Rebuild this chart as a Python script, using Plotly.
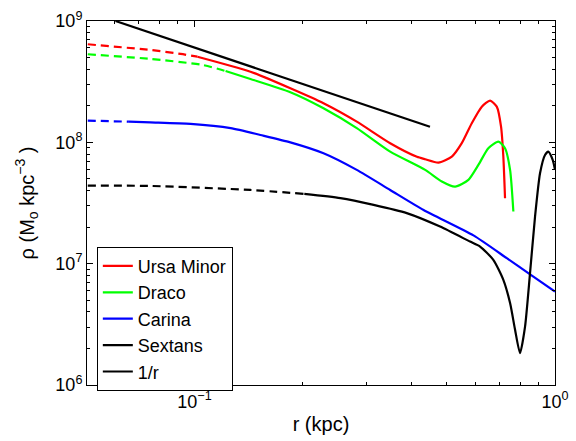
import plotly.graph_objects as go

# Ursa Minor (red)
um_dash_r = [0.0506, 0.0755, 0.0915, 0.1019]
um_dash_rho = [6.43e8, 5.77e8, 5.35e8, 5.08e8]
um_r = [0.1019, 0.143, 0.1845, 0.228, 0.282, 0.349, 0.414, 0.4365, 0.475, 0.5174, 0.5514, 0.5877, 0.6266, 0.6606, 0.6894, 0.7085, 0.719, 0.7268]
um_rho = [5.08e8, 3.82e8, 2.79e8, 2.10e8, 1.48e8, 9.83e7, 7.60e7, 7.26e7, 6.81e7, 7.63e7, 9.84e7, 1.437e8, 1.968e8, 2.205e8, 1.968e8, 1.346e8, 7.62e7, 3.46e7]

# Draco (green)
dr_dash_r = [0.0506, 0.0755, 0.105, 0.122]
dr_dash_rho = [5.32e8, 4.87e8, 4.35e8, 3.87e8]
dr_r = [0.122, 0.143, 0.1845, 0.228, 0.282, 0.349, 0.4365, 0.4855, 0.5284, 0.5752, 0.6131, 0.6533, 0.6966, 0.7268, 0.7506, 0.7665]
dr_rho = [3.87e8, 3.33e8, 2.59e8, 1.91e8, 1.31e8, 8.38e7, 5.93e7, 4.75e7, 4.31e7, 4.90e7, 6.51e7, 8.94e7, 1.013e8, 8.94e7, 5.93e7, 2.69e7]

# Carina (blue)
ca_dash_r = [0.0506, 0.0658]
ca_dash_rho = [1.51e8, 1.48e8]
ca_r = [0.0658, 0.0755, 0.0975, 0.126, 0.1524, 0.1845, 0.228, 0.282, 0.349, 0.432, 0.594, 0.735, 0.853, 1.0]
ca_rho = [1.48e8, 1.46e8, 1.42e8, 1.31e8, 1.15e8, 1.00e8, 8.13e7, 5.93e7, 4.05e7, 2.77e7, 1.71e7, 1.11e7, 8.17e6, 5.89e6]

# Sextans (black)
se_dash_r = [0.0506, 0.0755, 0.143, 0.2017]
se_dash_rho = [4.40e7, 4.37e7, 4.05e7, 3.76e7]
se_r = [0.2017, 0.254, 0.314, 0.388, 0.480, 0.5813, 0.6197, 0.6744, 0.719, 0.7506, 0.7749, 0.7998, 0.8259, 0.8526, 0.8803, 0.9088, 0.9382, 0.9581, 0.9854, 1.0]
se_rho = [3.76e7, 3.47e7, 3.05e7, 2.61e7, 2.02e7, 1.52e7, 1.384e7, 1.075e7, 7.36e6, 4.73e6, 2.85e6, 1.83e6, 3.03e6, 8.36e6, 2.44e7, 5.56e7, 7.87e7, 8.38e7, 7.16e7, 5.93e7]

# 1/r reference
inv_r = [0.0604, 0.45]
inv_rho = [1.0e9, 1.342e8]

x_tickvals = [0.1, 1]
x_ticktext = ["10<sup>\u22121</sup>", "10<sup>0</sup>"]
x_minor = [0.05, 0.06, 0.07, 0.08, 0.09, 0.2, 0.3, 0.4, 0.5, 0.6, 0.7, 0.8, 0.9]
y_tickvals = [1e6, 1e7, 1e8, 1e9]
y_ticktext = ["10<sup>6</sup>", "10<sup>7</sup>", "10<sup>8</sup>", "10<sup>9</sup>"]
y_minor = [m * 10 ** e for e in (6, 7, 8) for m in range(2, 10)]

FONT = "Arial, Liberation Sans, sans-serif"
DASH = "8px,5px"
W = 2.2

fig = go.Figure()

def add(rr, rho, color, name, dash=None, show=True):
    fig.add_trace(go.Scatter(
        x=rr, y=rho, mode="lines", name=name, showlegend=show,
        line=dict(color=color, width=W, dash=dash if dash else "solid", shape="spline", smoothing=0.6),
    ))

add(um_r, um_rho, "#ff0000", "Ursa Minor")
add(dr_r, dr_rho, "#00ff00", "Draco")
add(ca_r, ca_rho, "#0000ff", "Carina")
add(se_r, se_rho, "#000000", "Sextans")
add(inv_r, inv_rho, "#000000", "1/r")
add(um_dash_r, um_dash_rho, "#ff0000", "um", DASH, False)
add(dr_dash_r, dr_dash_rho, "#00ff00", "dr", DASH, False)
add(ca_dash_r, ca_dash_rho, "#0000ff", "ca", DASH, False)
add(se_dash_r, se_dash_rho, "#000000", "se", DASH, False)

XR = [-1.298, 0]
YR = [6, 9]

fig.update_layout(
    width=576, height=441,
    margin=dict(l=87, r=21, t=21, b=56),
    paper_bgcolor="white", plot_bgcolor="white",
    font=dict(family=FONT, size=18, color="black"),
    xaxis=dict(
        type="log", range=XR, tickmode="array", tickvals=x_tickvals, ticktext=x_ticktext,
        automargin=False,
        showgrid=False, zeroline=False, showline=True, linecolor="black", linewidth=1,
        mirror="allticks", ticks="inside", ticklen=6, tickcolor="black",
        minor=dict(tickmode="array", tickvals=x_minor, ticks="inside", ticklen=3,
                   tickcolor="black", showgrid=False),
        tickfont=dict(family=FONT, size=18, color="black"),
        title=dict(text="r (kpc)", font=dict(family=FONT, size=20, color="black"), standoff=6),
    ),
    yaxis=dict(
        type="log", range=YR, tickmode="array", tickvals=y_tickvals, ticktext=y_ticktext,
        automargin=False,
        showgrid=False, zeroline=False, showline=True, linecolor="black", linewidth=1,
        mirror="allticks", ticks="inside", ticklen=6, tickcolor="black",
        minor=dict(tickmode="array", tickvals=y_minor, ticks="inside", ticklen=3,
                   tickcolor="black", showgrid=False),
        tickfont=dict(family=FONT, size=18, color="black"),
        title=dict(text="\u03c1 (M<sub>o</sub> kpc<sup>\u22123</sup> )", font=dict(family=FONT, size=20, color="black"), standoff=15),
    ),
    legend=dict(x=0.021, y=0.38, xanchor="left", yanchor="top",
                bgcolor="white", bordercolor="black", borderwidth=1,
                font=dict(family=FONT, size=18, color="black"),
                tracegroupgap=0, itemwidth=30),
    showlegend=True,
)

fig.write_html("out.html", config={"displayModeBar": False},
               post_script="document.body.style.margin='0';document.body.style.overflow='hidden';")
